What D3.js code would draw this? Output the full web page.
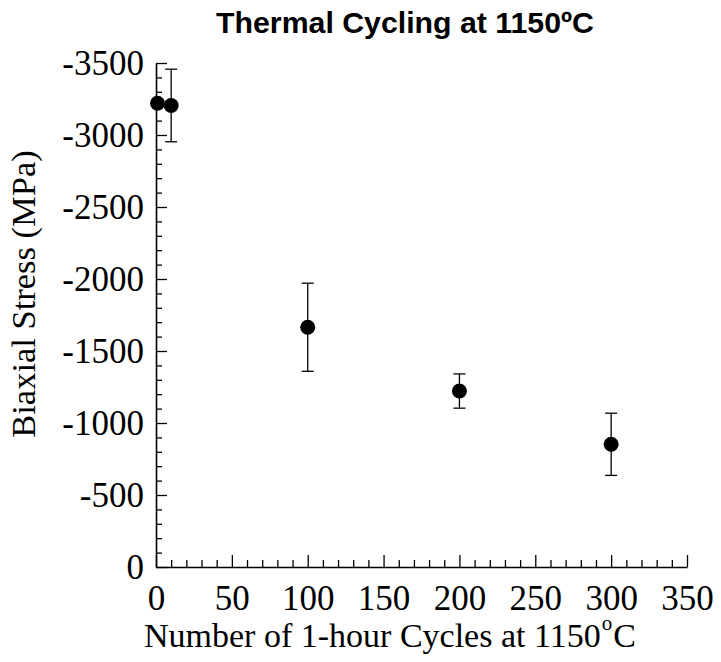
<!DOCTYPE html>
<html>
<head>
<meta charset="utf-8">
<script src="https://cdn.jsdelivr.net/npm/d3@7/dist/d3.min.js"></script>
<style>
  html, body { margin: 0; padding: 0; background: #fff; }
  svg { display: block; }
</style>
</head>
<body>
<svg id="chart" width="721" height="662"></svg>
<script>
// ---- data ----
const cycles = [1, 10, 100, 200, 300];
const stress = [-3220, -3205, -1665, -1222, -852];
const stressErr = [0, 252, 306, 119, 216];

const xMajorTicks = [0, 50, 100, 150, 200, 250, 300, 350];
const yMajorTicks = [0, -500, -1000, -1500, -2000, -2500, -3000, -3500];

const titleText = "Thermal Cycling at 1150ºC";
const yTitleText = "Biaxial Stress (MPa)";
const xTitleMain = "Number of 1-hour Cycles at 1150";
const xTitleSup = "o";
const xTitleEnd = "C";

// ---- layout ----
const plotLeft = 156, plotRight = 687, plotTop = 63, plotBottom = 567;

const svg = d3.select("#chart");

const x = d3.scaleLinear().domain([0, 350]).range([plotLeft, plotRight]);
const y = d3.scaleLinear().domain([0, -3500]).range([plotBottom, plotTop]);

const xMinor = d3.range(0, 351, 10).filter(v => v % 50 !== 0);
const yMinor = d3.range(0, -3501, -100).filter(v => v % 500 !== 0);

// minor ticks
svg.append("g")
  .attr("transform", `translate(0,${plotBottom})`)
  .call(d3.axisBottom(x).tickValues(xMinor).tickSize(-7).tickFormat(""))
  .call(g => g.select(".domain").remove())
  .call(g => g.selectAll("line").attr("stroke", "#000").attr("stroke-width", 1.3));

svg.append("g")
  .attr("transform", `translate(${plotLeft},0)`)
  .call(d3.axisLeft(y).tickValues(yMinor).tickSize(-6).tickFormat(""))
  .call(g => g.select(".domain").remove())
  .call(g => g.selectAll("line").attr("stroke", "#000").attr("stroke-width", 1.3));

// major axes
const xAxis = svg.append("g")
  .attr("transform", `translate(0,${plotBottom})`)
  .call(d3.axisBottom(x).tickValues(xMajorTicks).tickSize(-12).tickSizeOuter(0)
        .tickFormat(d => String(d)));
xAxis.select(".domain").attr("stroke", "#000").attr("stroke-width", 1.6);
xAxis.selectAll("line").attr("stroke", "#000").attr("stroke-width", 1.3);
xAxis.selectAll("text")
  .attr("y", 43).attr("dy", null)
  .attr("fill", "#000")
  .style("font-family", "'Liberation Serif', 'Times New Roman', serif")
  .style("font-size", "35px");

const yAxis = svg.append("g")
  .attr("transform", `translate(${plotLeft},0)`)
  .call(d3.axisLeft(y).tickValues(yMajorTicks).tickSize(-11).tickSizeOuter(0)
        .tickPadding(12).tickFormat(d => String(d)));
yAxis.select(".domain").attr("stroke", "#000").attr("stroke-width", 1.6);
yAxis.selectAll("line").attr("stroke", "#000").attr("stroke-width", 1.3);
yAxis.selectAll("text")
  .attr("fill", "#000")
  .attr("dy", "0.34em")
  .style("font-family", "'Liberation Serif', 'Times New Roman', serif")
  .style("font-size", "35px");

// error bars
const data = cycles.map((c, i) => ({c, s: stress[i], e: stressErr[i]}));
const eb = svg.append("g").attr("stroke", "#000").attr("stroke-width", 1.3);
data.filter(d => d.e > 0).forEach(d => {
  const cx = x(d.c);
  eb.append("line").attr("x1", cx).attr("x2", cx)
    .attr("y1", y(d.s - d.e)).attr("y2", y(d.s + d.e));
  eb.append("line").attr("x1", cx - 6).attr("x2", cx + 6)
    .attr("y1", y(d.s - d.e)).attr("y2", y(d.s - d.e));
  eb.append("line").attr("x1", cx - 6).attr("x2", cx + 6)
    .attr("y1", y(d.s + d.e)).attr("y2", y(d.s + d.e));
});

// markers
svg.append("g").selectAll("circle").data(data).join("circle")
  .attr("cx", d => x(d.c)).attr("cy", d => y(d.s))
  .attr("r", 7.5).attr("fill", "#000");

// title
svg.append("text")
  .attr("x", 405).attr("y", 33)
  .attr("text-anchor", "middle")
  .style("font-family", "'Liberation Sans', Arial, sans-serif")
  .style("font-weight", "bold")
  .style("font-size", "30px")
  .attr("textLength", 378).attr("lengthAdjust", "spacingAndGlyphs")
  .text(titleText);

// y title
svg.append("text")
  .attr("transform", "translate(35,294) rotate(-90)")
  .attr("text-anchor", "middle")
  .style("font-family", "'Liberation Serif', 'Times New Roman', serif")
  .style("font-size", "34.5px")
  .text(yTitleText);

// x title
const xt = svg.append("text")
  .attr("x", 144).attr("y", 647)
  .style("font-family", "'Liberation Serif', 'Times New Roman', serif")
  .style("font-size", "34px");
xt.append("tspan").text(xTitleMain);
xt.append("tspan").attr("dy", -17).attr("dx", 1).style("font-size", "21px").text(xTitleSup);
xt.append("tspan").attr("dy", 17).attr("dx", 1).text(xTitleEnd);
</script>
</body>
</html>
